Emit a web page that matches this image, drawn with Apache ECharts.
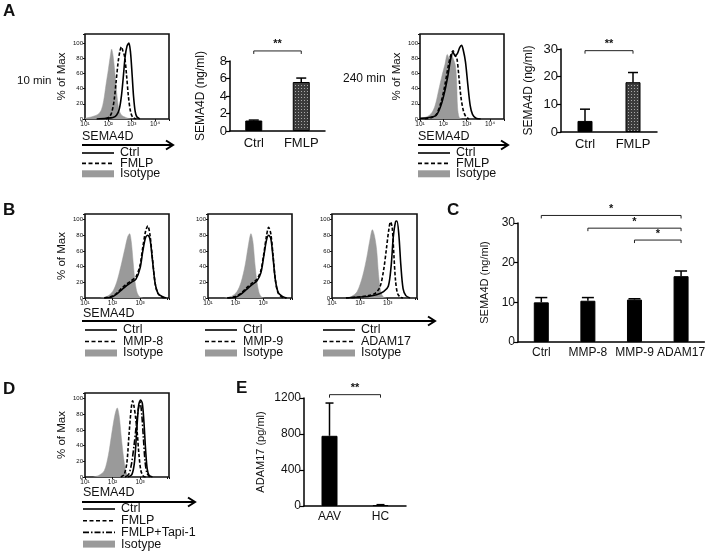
<!DOCTYPE html>
<html>
<head>
<meta charset="utf-8">
<script src="https://cdn.jsdelivr.net/npm/echarts@6/dist/echarts.min.js"></script>
<style>
html,body{margin:0;padding:0;background:#fff;}
#main{width:708px;height:552px;}
</style>
</head>
<body>
<div id="main"></div>
<script>
const FONT = '"Liberation Sans", Arial, sans-serif';
const GRAY = '#9a9a9a';

// flow tick labels (log10 exponent -> label)
const flowTicksA = ['10¹', '10²', '10³', '10⁴'];
const flowTicksB = ['10¹', '10²', '10³'];

// A, 10 min histograms  [log10 SEMA4D, % of max]
const a1Iso = [[1.0,1],[1.3,3],[1.55,6],[1.7,12],[1.8,24],[1.9,45],[2.0,65],[2.08,82],[2.14,92],[2.2,84],[2.29,58],[2.38,28],[2.46,12],[2.57,5],[2.75,2],[2.95,0]];
const a1Fmlp = [[1.9,0],[2.05,3],[2.15,9],[2.25,25],[2.33,48],[2.42,75],[2.5,90],[2.56,95],[2.62,90],[2.7,82],[2.78,58],[2.86,30],[2.95,10],[3.05,2],[3.2,0]];
const a1Ctrl = [[1.5,0],[1.9,1],[2.2,2],[2.35,5],[2.47,13],[2.56,30],[2.64,55],[2.72,82],[2.8,96],[2.88,100],[2.95,88],[3.02,58],[3.08,30],[3.15,10],[3.22,3],[3.35,0]];
// A, 240 min histograms
const a2Iso = [[1.0,1],[1.3,3],[1.5,8],[1.65,18],[1.8,38],[1.95,58],[2.07,72],[2.17,85],[2.25,80],[2.33,86],[2.42,80],[2.52,70],[2.57,50],[2.61,15],[2.68,2],[2.8,0]];
const a2Fmlp = [[1.2,0],[1.5,2],[1.7,6],[1.9,22],[2.05,42],[2.2,68],[2.32,84],[2.42,90],[2.5,84],[2.58,80],[2.66,58],[2.75,30],[2.85,12],[2.95,4],[3.1,0]];
const a2Ctrl = [[1.0,1],[1.4,2],[1.7,5],[1.9,18],[2.05,35],[2.2,58],[2.32,80],[2.42,88],[2.5,83],[2.6,86],[2.7,94],[2.78,97],[2.86,90],[2.95,75],[3.05,45],[3.15,18],[3.25,6],[3.4,1],[3.6,0]];
// B histograms
const b1Iso = [[1.55,0],[1.8,2],[2.0,8],[2.15,20],[2.3,40],[2.45,63],[2.55,78],[2.62,82],[2.68,72],[2.75,45],[2.82,20],[2.9,6],[3.0,1],[3.1,0]];
const b1Mmp = [[1.7,0],[1.95,2],[2.15,6],[2.35,13],[2.52,18],[2.68,22],[2.85,27],[3.0,42],[3.1,65],[3.2,85],[3.28,92],[3.36,80],[3.45,50],[3.55,18],[3.65,6],[3.8,1],[3.95,0]];
const b1Ctrl = [[1.7,0],[1.95,1],[2.15,5],[2.35,11],[2.52,16],[2.68,20],[2.85,24],[3.0,38],[3.1,60],[3.2,77],[3.28,80],[3.36,75],[3.45,48],[3.55,18],[3.65,6],[3.8,2],[3.95,0]];
const b2Iso = [[1.6,0],[1.85,2],[2.05,8],[2.2,20],[2.35,42],[2.47,68],[2.56,82],[2.63,72],[2.7,45],[2.78,20],[2.86,6],[2.95,1],[3.05,0]];
const b2Mmp = [[1.7,0],[2.0,2],[2.2,6],[2.4,13],[2.6,19],[2.78,24],[2.92,35],[3.02,55],[3.12,78],[3.2,90],[3.28,82],[3.36,55],[3.45,22],[3.55,6],[3.7,1],[3.85,0]];
const b2Ctrl = [[1.7,0],[2.0,1],[2.2,5],[2.4,11],[2.6,17],[2.78,22],[2.92,32],[3.02,52],[3.12,73],[3.2,80],[3.28,76],[3.36,52],[3.45,22],[3.55,7],[3.7,2],[3.85,0]];
const b3Iso = [[1.5,0],[1.7,2],[1.9,8],[2.1,28],[2.25,52],[2.35,72],[2.45,87],[2.52,80],[2.6,62],[2.67,30],[2.75,8],[2.85,1],[2.95,0]];
const b3Adam = [[1.5,0],[1.9,1],[2.3,3],[2.55,6],[2.72,14],[2.85,35],[2.95,62],[3.03,85],[3.1,97],[3.16,90],[3.22,55],[3.28,22],[3.35,6],[3.45,1],[3.55,0]];
const b3Ctrl = [[1.5,0],[1.9,1],[2.3,2],[2.6,4],[2.85,8],[3.02,15],[3.12,40],[3.2,78],[3.28,97],[3.33,98],[3.4,80],[3.47,42],[3.55,12],[3.65,3],[3.8,0]];
// D histograms
const dIso = [[1.3,0],[1.5,2],[1.7,8],[1.85,28],[1.97,55],[2.08,78],[2.17,88],[2.24,78],[2.32,50],[2.4,25],[2.48,8],[2.58,1],[2.7,0]];
const dFmlp = [[2.3,0],[2.42,3],[2.52,18],[2.6,55],[2.68,88],[2.73,97],[2.78,90],[2.84,75],[2.9,55],[2.96,28],[3.03,8],[3.12,1],[3.2,0]];
const dTapi = [[2.45,0],[2.58,3],[2.68,15],[2.78,40],[2.86,65],[2.93,85],[3.0,95],[3.06,80],[3.12,50],[3.18,20],[3.25,5],[3.35,0]];
const dCtrl = [[2.55,0],[2.7,3],[2.8,20],[2.88,60],[2.95,92],[3.02,98],[3.08,94],[3.14,70],[3.2,35],[3.26,10],[3.33,2],[3.45,0]];

// bar panels
const aCats = ['Ctrl', 'FMLP'];
const a1Vals = [1.2, 5.6];
const a1Errs = [0.05, 0.45];
const a2Vals = [4.0, 18.0];
const a2Errs = [4.25, 3.5];
const cCats = ['Ctrl', 'MMP-8', 'MMP-9', 'ADAM17'];
const cVals = [10.0, 10.4, 10.7, 16.6];
const cErrs = [1.2, 0.8, 0.2, 1.3];
const eCats = ['AAV', 'HC'];
const eVals = [780, 10];
const eErrs = [364, 5];

// significance brackets [from, to, height, label]
const a1Sig = [['Ctrl', 'FMLP', 9.15, '**']];
const a2Sig = [['Ctrl', 'FMLP', 29.4, '**']];
const cSig = [['Ctrl', 'ADAM17', 31.9, '*'], ['MMP-8', 'ADAM17', 28.7, '*'], ['MMP-9', 'ADAM17', 25.7, '*']];
const eSig = [['AAV', 'HC', 1237, '**']];

const chart = echarts.init(document.getElementById('main'));

// hatched fill for FMLP bars
const hatch = document.createElement('canvas');
hatch.width = 3; hatch.height = 3;
(() => {
    const c = hatch.getContext('2d');
    c.fillStyle = '#3c3c3c'; c.fillRect(0, 0, 3, 3);
    c.fillStyle = '#a8a8a8'; c.fillRect(1, 1, 1, 1);
})();

const grids = [
    {left: 85, top: 34, width: 84, height: 85},    // 0 A 10min flow
    {left: 230, top: 61, width: 95, height: 70},   // 1 A 10min bar
    {left: 420, top: 34, width: 84, height: 85},   // 2 A 240min flow
    {left: 561, top: 49, width: 96, height: 83},   // 3 A 240min bar
    {left: 85, top: 214, width: 84, height: 84},   // 4 B1
    {left: 208, top: 214, width: 84, height: 84},  // 5 B2
    {left: 332, top: 214, width: 85, height: 84},  // 6 B3
    {left: 518, top: 223, width: 187, height: 119},// 7 C
    {left: 85, top: 393, width: 84, height: 84},   // 8 D flow
    {left: 304, top: 398, width: 102, height: 108} // 9 E
];
const flowGrids = [0, 2, 4, 5, 6, 8];
grids.forEach((g, i) => {
    if (flowGrids.includes(i)) {
        g.show = true; g.borderColor = '#111'; g.borderWidth = 1.6; g.backgroundColor = '#fff';
    }
});

const flowX = (gi, max, ticks) => ({
    gridIndex: gi, type: 'value', min: 1, max: max, interval: 1,
    axisLine: {show: false}, splitLine: {show: false},
    axisTick: {show: true, length: 2, lineStyle: {color: '#111'}},
    axisLabel: {fontSize: 6.5, color: '#111', margin: 2, formatter: v => ticks[v - 1] || '', showMaxLabel: true}
});
const flowY = (gi, max, named) => ({
    gridIndex: gi, type: 'value', min: 0, max: max, interval: 20,
    axisLine: {show: false}, splitLine: {show: false},
    axisTick: {show: true, length: 2, lineStyle: {color: '#111'}},
    axisLabel: {fontSize: 6, color: '#111', margin: 2, formatter: v => v <= 100 ? v : ''},
    name: named ? '% of Max' : '', nameLocation: 'middle', nameGap: 17,
    nameTextStyle: {fontSize: 11.5, color: '#111', fontFamily: FONT}
});
const barX = (gi, cats, size, margin) => ({
    gridIndex: gi, type: 'category', data: cats,
    axisLine: {lineStyle: {color: '#000', width: 1.5}},
    axisTick: {show: false},
    axisLabel: {fontSize: size, color: '#111', margin: margin, interval: 0}
});
const barY = (gi, max, step, name, size, gap) => ({
    gridIndex: gi, type: 'value', min: 0, max: max, interval: step,
    axisLine: {show: true, lineStyle: {color: '#000', width: 1.5}},
    axisTick: {show: true, length: 4, lineStyle: {color: '#000', width: 1.2}},
    splitLine: {show: false},
    axisLabel: {fontSize: size + 1, color: '#111', margin: 3, formatter: v => String(v)},
    name: name, nameLocation: 'middle', nameGap: gap,
    nameTextStyle: {fontSize: size, color: '#111', fontFamily: FONT}
});

const xAxes = [
    flowX(0, 4.6, flowTicksA), barX(1, aCats, 13, 6),
    flowX(2, 4.6, flowTicksA), barX(3, aCats, 13, 6),
    flowX(4, 4.05, flowTicksB), flowX(5, 4.05, flowTicksB), flowX(6, 4.05, flowTicksB),
    barX(7, cCats, 12, 5), flowX(8, 4.05, flowTicksB), barX(9, eCats, 12, 5)
];
const yAxes = [
    flowY(0, 112, true), barY(1, 8, 2, 'SEMA4D (ng/ml)', 12, 23),
    flowY(2, 112, true), barY(3, 30, 10, 'SEMA4D (ng/ml)', 12, 26),
    flowY(4, 107, true), flowY(5, 107, false), flowY(6, 107, false),
    barY(7, 30, 10, 'SEMA4D (ng/ml)', 11, 28), flowY(8, 107, true),
    barY(9, 1200, 400, 'ADAM17 (pg/ml)', 11, 38)
];

const iso = (gi, data) => ({
    name: 'Isotype', type: 'line', xAxisIndex: gi, yAxisIndex: gi, data: data,
    smooth: 0.3, symbol: 'none', z: 1, silent: true,
    lineStyle: {width: 0.5, color: GRAY}, areaStyle: {color: GRAY, opacity: 1}
});
const curve = (gi, name, data, dash) => ({
    name: name, type: 'line', xAxisIndex: gi, yAxisIndex: gi, data: data,
    smooth: 0.3, symbol: 'none', z: 3, silent: true,
    lineStyle: {width: 1.6, color: '#000', type: dash || 'solid'}
});
const DASH = [3.5, 2];
const DASHDOT = [6, 2, 1.5, 2];

const bars = (gi, cats, vals, width, fills) => ({
    type: 'bar', xAxisIndex: gi, yAxisIndex: gi, barWidth: width, z: 3,
    data: vals.map((v, i) => ({value: v, itemStyle: {color: fills[i], borderColor: '#000', borderWidth: 1}}))
});
const errs = (gi, vals, es, cap) => ({
    type: 'custom', xAxisIndex: gi, yAxisIndex: gi, z: 4, silent: true,
    data: vals.map((v, i) => [i, v, es[i]]),
    encode: {x: 0, y: 1},
    renderItem: (params, api) => {
        const b = api.coord([api.value(0), api.value(1)]);
        const t = api.coord([api.value(0), api.value(1) + api.value(2)]);
        const st = {stroke: '#000', lineWidth: 1.5};
        return {type: 'group', children: [
            {type: 'line', shape: {x1: b[0], y1: b[1], x2: t[0], y2: t[1]}, style: st},
            {type: 'line', shape: {x1: t[0] - cap, y1: t[1], x2: t[0] + cap, y2: t[1]}, style: st}
        ]};
    }
});
const pattern = {image: hatch, repeat: 'repeat'};

const series = [
    iso(0, a1Iso), curve(0, 'FMLP', a1Fmlp, DASH), curve(0, 'Ctrl', a1Ctrl),
    bars(1, aCats, a1Vals, 17, ['#000', pattern]), errs(1, a1Vals, a1Errs, 5),
    iso(2, a2Iso), curve(2, 'FMLP', a2Fmlp, DASH), curve(2, 'Ctrl', a2Ctrl),
    bars(3, aCats, a2Vals, 15, ['#000', pattern]), errs(3, a2Vals, a2Errs, 5),
    iso(4, b1Iso), curve(4, 'MMP-8', b1Mmp, DASH), curve(4, 'Ctrl', b1Ctrl),
    iso(5, b2Iso), curve(5, 'MMP-9', b2Mmp, DASH), curve(5, 'Ctrl', b2Ctrl),
    iso(6, b3Iso), curve(6, 'ADAM17', b3Adam, DASH), curve(6, 'Ctrl', b3Ctrl),
    bars(7, cCats, cVals, 15, ['#000', '#000', '#000', '#000']), errs(7, cVals, cErrs, 6),
    iso(8, dIso), curve(8, 'FMLP', dFmlp, DASH), curve(8, 'FMLP+Tapi-1', dTapi, DASHDOT), curve(8, 'Ctrl', dCtrl),
    bars(9, eCats, eVals, 16, ['#000', '#000']), errs(9, eVals, eErrs, 4)
];

chart.setOption({
    animation: false,
    backgroundColor: '#fff',
    textStyle: {fontFamily: FONT},
    grid: grids,
    xAxis: xAxes,
    yAxis: yAxes,
    series: series
});

// ---- decorations ----
const txt = (x, y, s, size, opts) => ({
    type: 'text', x: x, y: y, silent: true,
    style: Object.assign({text: s, font: size + 'px ' + FONT, fill: '#111', textAlign: 'left', textVerticalAlign: 'middle'}, opts || {})
});
const arrow = (x1, x2, y) => [
    {type: 'line', silent: true, shape: {x1: x1, y1: y, x2: x2, y2: y}, style: {stroke: '#000', lineWidth: 2}},
    {type: 'polyline', silent: true, shape: {points: [[x2 - 7, y - 4.5], [x2, y], [x2 - 7, y + 4.5]]}, style: {stroke: '#000', lineWidth: 2, fill: null}}
];
const legend = (x, y, step, rows) => {
    const out = [];
    rows.forEach((r, i) => {
        const yy = y + i * step;
        if (r[1] === 'iso') {
            out.push({type: 'rect', silent: true, shape: {x: x, y: yy - 3.5, width: 32, height: 7}, style: {fill: GRAY}});
        } else {
            out.push({type: 'line', silent: true, shape: {x1: x, y1: yy, x2: x + 32, y2: yy},
                style: {stroke: '#000', lineWidth: 1.6, lineDash: r[1] === 'solid' ? null : r[1]}});
        }
        out.push(txt(x + 38, yy, r[0], 12.5));
    });
    return out;
};

let g = [];
g.push(txt(3, 11, 'A', 17, {font: 'bold 17px ' + FONT}));
g.push(txt(3, 210, 'B', 17, {font: 'bold 17px ' + FONT}));
g.push(txt(447, 210, 'C', 17, {font: 'bold 17px ' + FONT}));
g.push(txt(3, 389, 'D', 17, {font: 'bold 17px ' + FONT}));
g.push(txt(236, 388, 'E', 17, {font: 'bold 17px ' + FONT}));
g.push(txt(17, 81, '10 min', 11.5));
g.push(txt(343, 79, '240 min', 12));

g.push(txt(82, 137, 'SEMA4D', 12.5));
g = g.concat(arrow(82, 173, 145));
g = g.concat(legend(82, 153, 10.4, [['Ctrl', 'solid'], ['FMLP', [4, 2.5]], ['Isotype', 'iso']]));
g.push(txt(418, 137, 'SEMA4D', 12.5));
g = g.concat(arrow(418, 508, 145));
g = g.concat(legend(418, 153, 10.4, [['Ctrl', 'solid'], ['FMLP', [4, 2.5]], ['Isotype', 'iso']]));

g.push(txt(83, 314, 'SEMA4D', 12.5));
g = g.concat(arrow(82, 435, 321));
g = g.concat(legend(85, 330, 11.5, [['Ctrl', 'solid'], ['MMP-8', [4, 2.5]], ['Isotype', 'iso']]));
g = g.concat(legend(205, 330, 11.5, [['Ctrl', 'solid'], ['MMP-9', [4, 2.5]], ['Isotype', 'iso']]));
g = g.concat(legend(323, 330, 11.5, [['Ctrl', 'solid'], ['ADAM17', [4, 2.5]], ['Isotype', 'iso']]));

g.push(txt(83, 493, 'SEMA4D', 12.5));
g = g.concat(arrow(82, 195, 502));
g = g.concat(legend(83, 509, 11.7, [['Ctrl', 'solid'], ['FMLP', [4, 2.5]], ['FMLP+Tapi-1', [6, 2, 1.5, 2]], ['Isotype', 'iso']]));

// brackets placed through the bar axes
const bracket = (gi, cats, sig) => {
    const out = [];
    sig.forEach(s => {
        const p1 = chart.convertToPixel({gridIndex: gi}, [cats.indexOf(s[0]), s[2]]);
        const p2 = chart.convertToPixel({gridIndex: gi}, [cats.indexOf(s[1]), s[2]]);
        out.push({type: 'polyline', silent: true,
            shape: {points: [[p1[0], p1[1] + 3], [p1[0], p1[1]], [p2[0], p1[1]], [p2[0], p1[1] + 3]]},
            style: {stroke: '#222', lineWidth: 1, fill: null}});
        out.push(txt((p1[0] + p2[0]) / 2, p1[1] - 1, s[3], 11, {textAlign: 'center', textVerticalAlign: 'bottom', font: 'bold 11px ' + FONT}));
    });
    return out;
};
g = g.concat(bracket(1, aCats, a1Sig), bracket(3, aCats, a2Sig), bracket(7, cCats, cSig), bracket(9, eCats, eSig));

chart.setOption({graphic: g});
</script>
</body>
</html>
